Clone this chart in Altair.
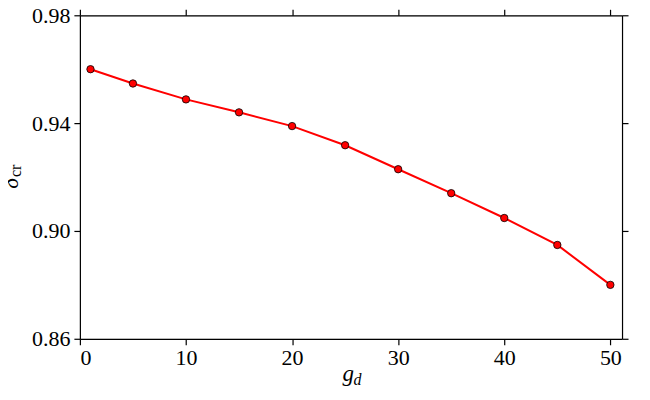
import altair as alt
import pandas as pd

g_d = [1, 5, 10, 15, 20, 25, 30, 35, 40, 45, 50]
delta_cr = [0.960, 0.9547, 0.9488, 0.944, 0.9389, 0.9318, 0.9229, 0.914, 0.9048, 0.8948, 0.880]
x_ticks = [0, 10, 20, 30, 40, 50]
y_ticks = [0.86, 0.90, 0.94, 0.98]

df = pd.DataFrame({"g": g_d, "d": delta_cr})

FONT = "'Liberation Serif', 'Times New Roman', 'DejaVu Serif', serif"
W, H = 543, 324

xs = alt.Scale(domain=[0, 51.1], nice=False, zero=False)
ys = alt.Scale(domain=[0.86, 0.98], nice=False, zero=False)

axis_common = dict(
    grid=False, domain=True, domainColor="black", domainWidth=1.2,
    tickColor="black", tickWidth=1.2, tickSize=6,
    labelFont=FONT, labelFontSize=22, labelColor="black", title=None,
)

base = alt.Chart(df)

line = base.mark_line(color="#ff0000", strokeWidth=2).encode(
    x=alt.X("g:Q", scale=xs, axis=alt.Axis(orient="bottom", values=x_ticks, format="d",
                                           labelPadding=3, **axis_common)),
    y=alt.Y("d:Q", scale=ys, axis=alt.Axis(orient="left", values=y_ticks, format=".2f",
                                           labelPadding=4, **axis_common)),
)

pts = base.mark_point(filled=True, fill="#ff0000", stroke="black", strokeWidth=0.8,
                      size=55, opacity=1).encode(
    x=alt.X("g:Q", scale=xs, axis=None),
    y=alt.Y("d:Q", scale=ys, axis=None),
)

mirror = base.mark_point(opacity=0).encode(
    x=alt.X("g:Q", scale=xs, axis=alt.Axis(orient="top", values=x_ticks, labels=False,
                                           **axis_common)),
    y=alt.Y("d:Q", scale=ys, axis=alt.Axis(orient="right", values=y_ticks, labels=False,
                                           **axis_common)),
)

one = pd.DataFrame({"a": [0]})
t = alt.Chart(one)
ylab1 = t.mark_text(font=FONT, fontSize=23, fontStyle="italic", angle=270, align="right",
                    baseline="alphabetic", color="black").encode(
    x=alt.value(-62), y=alt.value(163), text=alt.value("δ"))
ylab2 = t.mark_text(font=FONT, fontSize=16, angle=270, align="left",
                    baseline="alphabetic", color="black").encode(
    x=alt.value(-59), y=alt.value(162), text=alt.value("cr"))
xlab1 = t.mark_text(font=FONT, fontSize=23, fontStyle="italic", align="left",
                    baseline="alphabetic", color="black").encode(
    x=alt.value(263), y=alt.value(366), text=alt.value("g"))
xlab2 = t.mark_text(font=FONT, fontSize=16, fontStyle="italic", align="left",
                    baseline="alphabetic", color="black").encode(
    x=alt.value(274), y=alt.value(370), text=alt.value("d"))

chart = alt.layer(line, pts, mirror, ylab1, ylab2, xlab1, xlab2).resolve_axis(
    x="independent", y="independent"
).properties(
    width=W, height=H,
    autosize=alt.AutoSizeParams(type="none"),
    padding={"left": 72, "top": 7, "right": 20, "bottom": 50},
).configure_view(stroke="black", strokeWidth=1.2).configure(background="white")

chart.save("out.html", embed_options={"renderer": "svg", "actions": False})
